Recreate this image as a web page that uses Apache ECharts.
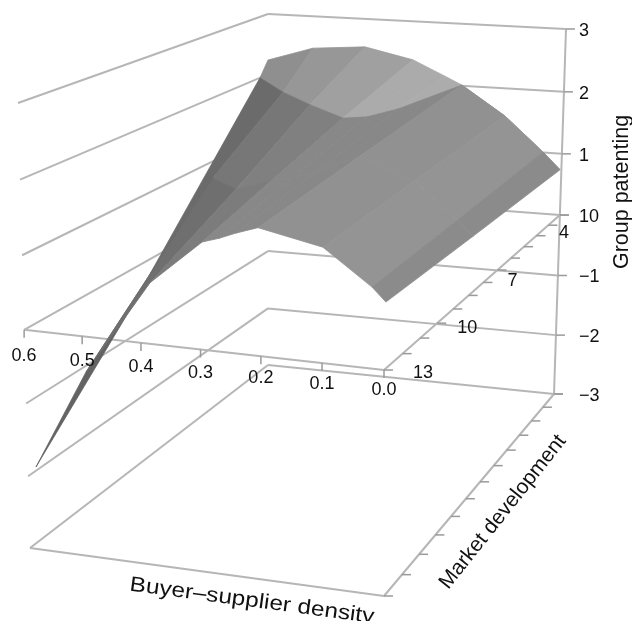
<!DOCTYPE html>
<html><head><meta charset="utf-8"><style>html,body{margin:0;padding:0;background:#fff}#c{width:632px;height:621px}</style>
<script src="https://cdn.jsdelivr.net/npm/echarts@6/dist/echarts.min.js"></script></head>
<body><div id="c"></div><script>
// ---- data ----
const densityColumns = [0.6, 0.5, 0.4, 0.3, 0.27, 0.24, 0.2, 0.1, 0.03, 0];
const marketRow0 = [1.00, 1.19, 0.96, 1.03, 0.94, 0.84, 1.06, 1.60, 1.32, 1.12];
const patentRow0 = [2.24, 2.50, 2.54, 2.38, 2.25, 2.12, 2.02, 1.64, 1.06, 0.76];
const marketRow1 = [1.50, 3.07, 4.49, 5.64, 5.14, 4.16, 1.06, 1.60, 1.32, 1.12];
const patentRow1 = [2.00, 2.00, 2.03, 2.03, 2.00, 2.01, 2.02, 1.64, 1.06, 0.76];
const marketRow2 = [8.58, 7.01, 8.58, 9.57, 9.36, 8.99, 7.84, 7.96, 7.71, 7.77];
const patentRow2 = [-0.58, 1.20, 1.34, 1.69, 1.72, 1.77, 1.84, 1.56, 1.01, 0.81];
const marketRow3 = [12.69, 12.89, 12.58, 12.87, 12.92, 12.97, 13.08, 12.93, 12.65, 12.90];
const patentRow3 = [-1.95, -0.51, 0.72, 1.39, 1.47, 1.57, 1.69, 1.49, 0.98, 0.86];
const patentTicks = [3, 2, 1, 0, -1, -2, -3];
const patentLabels = ['3', '2', '1', '10', '\u22121', '\u22122', '\u22123'];
const densityTicks = [0.6, 0.5, 0.4, 0.3, 0.2, 0.1, 0.0];
const densityLabels = ['0.6', '0.5', '0.4', '0.3', '0.2', '0.1', '0.0'];
const marketTicks = [1, 2, 3, 4, 5, 6, 7, 8, 9, 10, 11, 12, 13];
const marketLabelled = [4, 7, 10, 13];
const axisNames = ['Group patenting', 'Market development', 'Buyer\u2013supplier density'];

// ---- styling / view ----
const shadeRow0 = ['#8f8f8f', '#979797', '#a0a0a0', '#ababab', '#ababab', '#acacac', '#acacac', '#acacac', '#acacac'];
const shadeRow1 = ['#6b6b6b', '#777777', '#808080', '#888888', '#888888', '#888888', '#919191', '#949494', '#8b8b8b'];
const shadeRow2 = ['#636363', '#6f6f6f', '#7c7c7c', '#888888', '#888888', '#888888', '#919191', '#949494', '#8b8b8b'];
const marketLabelShift = [[40, -14], [29, -1], [30, 5], [39, 3]];
const corners = { lbf: [268, 365], lbt: [268, 14], rbf: [554, 394], rbt: [566, 29], lff: [30, 548], lft: [18, 103], rff: [384, 596], rft: [384, 135] };
const LINE = '#b6b6b6', FONT = '"Liberation Sans", Arial, sans-serif';

const warp = (t, r) => t / (t + r * (1 - t));
const mix = (a, b, t) => [a[0] + (b[0] - a[0]) * t, a[1] + (b[1] - a[1]) * t];
function project(x, m, z) {
  const sx = warp(1 - x / 0.6, 1.04), st = warp((m - 1) / 12, 1.3), sw = warp((z + 3) / 6, 1.04), C = corners;
  const f = mix(mix(C.lbf, C.rbf, sx), mix(C.lff, C.rff, sx), st);
  const t = mix(mix(C.lbt, C.rbt, sx), mix(C.lft, C.rft, sx), st);
  return mix(f, t, sw);
}
const marketRows = [marketRow0, marketRow1, marketRow2, marketRow3];
const patentRows = [patentRow0, patentRow1, patentRow2, patentRow3];
const shadeRows = [shadeRow0, shadeRow1, shadeRow2];

// frame segments in chart coordinates [x, m, z]
const segs = [];
patentTicks.forEach(z => {
  segs.push([[0.6, 13, z], [0.6, 1, z]]);
  segs.push([[0.6, 1, z], [0, 1, z]]);
});
segs.push([[0.6, 13, -3], [0, 13, -3]]);   // floor front
segs.push([[0, 13, -3], [0, 1, -3]]);      // floor right
segs.push([[0.6, 13, 0], [0, 13, 0]]);     // density axis
segs.push([[0, 13, 0], [0, 1, 0]]);        // market axis
segs.push([[0, 1, -3], [0, 1, 3]]);        // patent axis

// tick marks: anchor in chart coordinates + pixel direction
const ticks = [];
patentTicks.forEach(z => ticks.push({ p: [0, 1, z], d: [9, 0] }));
densityTicks.forEach(x => ticks.push({ p: [x, 13, 0], d: [0, 8] }));
marketTicks.forEach(m => { ticks.push({ p: [0, m, 0], d: [9, 0] }); ticks.push({ p: [0, m, -3], d: [9, 0] }); });

// surface cells
const cells = [];
shadeRows.forEach((row, r) => row.forEach((col, c) => cells.push({ r, c, col })));

// text
const texts = [];
patentTicks.forEach((z, i) => { const p = project(0, 1, z); texts.push({ t: patentLabels[i], at: [579, p[1] + 2], a: 'left', s: 18 }); });
densityTicks.forEach((x, i) => { const p = project(x, 13, 0); texts.push({ t: densityLabels[i], at: [p[0], p[1] + 20 + 10 * x], a: 'center', s: 18 }); });
marketLabelled.forEach((m, i) => { const p = project(0, m, 0); texts.push({ t: String(m), at: [p[0] + marketLabelShift[i][0], p[1] + marketLabelShift[i][1]], a: 'center', s: 18 }); });
texts.push({ t: axisNames[0], at: [622, 192], a: 'center', s: 21.5, rot: 90 });
texts.push({ t: axisNames[1], at: [503, 512], a: 'center', s: 21, rot: 51.5 });
texts.push({ t: axisNames[2], at: [252, 601], a: 'center', s: 21, rot: -7.6, sx: 1.16 });

const chart = echarts.init(document.getElementById('c'), null, { renderer: 'canvas' });
chart.setOption({
  animation: false,
  backgroundColor: '#fff',
  grid: { left: 0, right: 0, top: 0, bottom: 0 },
  xAxis: { type: 'value', min: 0, max: 632, show: false },
  yAxis: { type: 'value', min: 0, max: 621, inverse: true, show: false },
  series: [
    { type: 'custom', silent: true, clip: false, z: 1, data: segs.map((s, i) => [i]),
      renderItem(params, api) {
        const s = segs[params.dataIndex], a = api.coord(project(...s[0])), b = api.coord(project(...s[1]));
        return { type: 'line', shape: { x1: a[0], y1: a[1], x2: b[0], y2: b[1] }, style: { stroke: LINE, lineWidth: 2, fill: null } };
      } },
    { type: 'custom', silent: true, clip: false, z: 2, data: ticks.map((s, i) => [i]),
      renderItem(params, api) {
        const s = ticks[params.dataIndex], q = project(...s.p), a = api.coord(q), b = api.coord([q[0] + s.d[0], q[1] + s.d[1]]);
        return { type: 'line', shape: { x1: a[0], y1: a[1], x2: b[0], y2: b[1] }, style: { stroke: '#9a9a9a', lineWidth: 1.5, fill: null } };
      } },
    { type: 'custom', silent: true, clip: false, z: 3, data: cells.map((s, i) => [i]),
      renderItem(params, api) {
        const k = cells[params.dataIndex], r = k.r, c = k.c;
        const node = (rr, cc) => api.coord(project(densityColumns[cc], marketRows[rr][cc], patentRows[rr][cc]));
        return { type: 'polygon', shape: { points: [node(r, c), node(r, c + 1), node(r + 1, c + 1), node(r + 1, c)] }, style: { fill: k.col, stroke: k.col, lineWidth: 0.8, lineJoin: 'round' } };
      } },
    { type: 'custom', silent: true, clip: false, z: 4, data: texts.map((s, i) => [i]),
      renderItem(params, api) {
        const k = texts[params.dataIndex], p = api.coord(k.at);
        return { type: 'text', x: p[0], y: p[1], rotation: (k.rot || 0) * Math.PI / 180, scaleX: k.sx || 1, scaleY: 1,
          style: { text: k.t, x: 0, y: 0, fill: '#111', fontSize: k.s, fontFamily: FONT, align: k.a, verticalAlign: 'middle' } };
      } }
  ]
});
</script></body></html>
